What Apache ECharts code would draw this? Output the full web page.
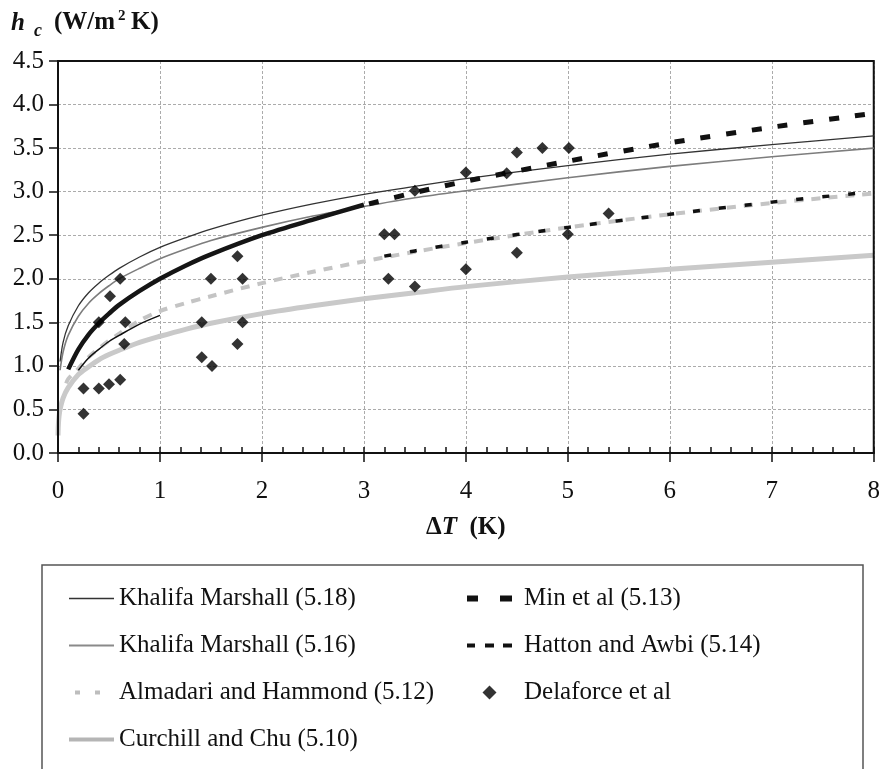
<!DOCTYPE html>
<html>
<head>
<meta charset="utf-8">
<script src="https://cdn.jsdelivr.net/npm/echarts@6/dist/echarts.min.js"></script>
<style>
  html, body { margin: 0; padding: 0; background: #fff; }
  #chart { width: 883px; height: 769px; }
</style>
</head>
<body>
<div id="chart"></div>
<script>
// ---- data ----
const xTickLabels = ['0', '1', '2', '3', '4', '5', '6', '7', '8'];
const yTickLabels = ['0.0', '0.5', '1.0', '1.5', '2.0', '2.5', '3.0', '3.5', '4.0', '4.5'];

const dT_KM = [0.02, 0.05, 0.1, 0.2, 0.3, 0.4, 0.5, 0.6, 0.8, 1, 1.25, 1.5, 2, 2.5, 3, 3.5, 4, 5, 6, 7, 8];
const hc_KM518 = [1.05, 1.27, 1.46, 1.69, 1.84, 1.95, 2.04, 2.12, 2.25, 2.36, 2.47, 2.57, 2.73, 2.86, 2.97, 3.06, 3.15, 3.30, 3.43, 3.54, 3.64];
const hc_KM516 = [0.95, 1.16, 1.35, 1.57, 1.72, 1.83, 1.92, 2.00, 2.12, 2.23, 2.34, 2.44, 2.59, 2.72, 2.83, 2.93, 3.01, 3.16, 3.29, 3.40, 3.50];

const dT_Alm = [0.08, 0.1, 0.2, 0.3, 0.4, 0.5, 0.6, 0.8, 1, 1.25, 1.5, 2, 2.5, 3, 3.5, 4, 5, 6, 7, 8];
const hc_Alm = [0.80, 0.85, 0.97, 1.10, 1.20, 1.29, 1.37, 1.52, 1.63, 1.72, 1.80, 1.95, 2.08, 2.20, 2.31, 2.41, 2.59, 2.74, 2.87, 2.98];

const dT_CC = [0.0005, 0.002, 0.005, 0.01, 0.02, 0.05, 0.1, 0.2, 0.3, 0.4, 0.5, 0.6, 0.8, 1, 1.25, 1.5, 2, 2.5, 3, 3.5, 4, 5, 6, 7, 8];
const hc_CC = [0.20, 0.28, 0.35, 0.42, 0.50, 0.63, 0.75, 0.90, 0.99, 1.07, 1.13, 1.18, 1.27, 1.34, 1.42, 1.49, 1.60, 1.69, 1.77, 1.84, 1.91, 2.02, 2.11, 2.19, 2.27];

const dT_MinLow = [0.1, 0.2, 0.3, 0.4, 0.5, 0.6, 0.8, 1, 1.25, 1.5, 2, 2.5, 3];
const hc_MinLow = [0.96, 1.19, 1.36, 1.49, 1.60, 1.70, 1.86, 2.00, 2.15, 2.28, 2.50, 2.68, 2.85];
const dT_MinHigh = [3.05, 3.5, 4, 5, 6, 7, 8];
const hc_MinHigh = [2.86, 2.99, 3.12, 3.35, 3.56, 3.74, 3.90];

const dT_HatLow = [0.2, 0.3, 0.4, 0.5, 0.6, 0.8, 1];
const hc_HatLow = [0.95, 1.09, 1.19, 1.28, 1.35, 1.48, 1.58];
const dT_HatHigh = [3.2, 3.5, 4, 5, 6, 7, 8];
const hc_HatHigh = [2.26, 2.32, 2.42, 2.59, 2.74, 2.88, 3.00];

const dT_Del = [0.25, 0.40, 0.50, 0.61, 0.25, 0.66, 0.65, 1.41, 1.41, 1.51, 1.81, 1.76, 0.61, 0.51, 0.40, 1.50, 1.81, 1.76,
                3.20, 3.30, 3.24, 3.50, 3.50, 4.00, 4.40, 4.50, 4.75, 5.01, 4.50, 5.00, 5.40, 4.00];
const hc_Del = [0.74, 0.74, 0.79, 0.84, 0.45, 1.50, 1.25, 1.50, 1.10, 1.00, 1.50, 1.25, 2.00, 1.80, 1.50, 2.00, 2.00, 2.26,
                2.51, 2.51, 2.00, 1.91, 3.01, 3.22, 3.21, 3.45, 3.50, 3.50, 2.30, 2.51, 2.75, 2.11];

const names = {
  km518: 'Khalifa Marshall (5.18)',
  km516: 'Khalifa Marshall (5.16)',
  alm: 'Almadari and Hammond (5.12)',
  cc: 'Curchill and Chu (5.10)',
  min: 'Min et al (5.13)',
  hat: 'Hatton and Awbi (5.14)',
  del: 'Delaforce et al'
};

// ---- build ----
const zip = (xs, ys) => xs.map((x, i) => [x, ys[i]]);
const FONT = 'Liberation Serif';
const hideSym = { opacity: 0, color: 'rgba(0,0,0,0)', borderWidth: 0 };

// legend glyphs (45 x 14 boxes)
const ICON_ALM = 'path://M0,0 L0.1,0 L0.1,0.1 Z M45,10 L44.9,10 L44.9,9.9 Z M6,3 H11 V7 H6 Z M26,3 H31 V7 H26 Z';
const ICON_MIN = 'path://M0,4 H11 V10 H0 Z M33,4 H45 V10 H33 Z';
const ICON_HAT = 'path://M0,5 H8 V9 H0 Z M18,5 H27 V9 H18 Z M36,5 H45 V9 H36 Z';
const ICON_DEL = 'path://M5,0 L10,5 L5,10 L0,5 Z';

function lineSeries(name, xs, ys, style, z) {
  return {
    name: name, type: 'line', data: zip(xs, ys), showSymbol: false, symbol: 'none',
    smooth: 0.3, lineStyle: style, itemStyle: { color: style.color },
    z: z, silent: true
  };
}

const chart = echarts.init(document.getElementById('chart'), null, { renderer: 'canvas' });
chart.setOption({
  animation: false,
  backgroundColor: '#fff',
  grid: { left: 58, right: 7, top: 61, bottom: 316, show: true, borderColor: '#111', borderWidth: 2, backgroundColor: 'transparent', z: 3 },
  xAxis: [{
    type: 'value', min: 0, max: 8, interval: 1, position: 'bottom',
    axisLine: { lineStyle: { color: '#111', width: 2 } },
    axisTick: { show: true, inside: false, length: 9, lineStyle: { color: '#111', width: 1.5 } },
    axisLabel: { margin: 26, fontFamily: FONT, fontSize: 25, color: '#111', formatter: v => xTickLabels[Math.round(v)] },
    splitLine: { show: true, lineStyle: { color: '#ababab', width: 1, type: [3, 2] } },
    name: 'Δ{i|T}  (K)', nameLocation: 'middle', nameGap: 62,
    nameTextStyle: { fontFamily: FONT, fontSize: 25, fontWeight: 'bold', color: '#111',
      rich: { i: { fontFamily: FONT, fontSize: 25, fontWeight: 'bold', fontStyle: 'italic', color: '#111' } } }
  }, {
    type: 'value', min: 0, max: 8, interval: 0.2, position: 'bottom', gridIndex: 0,
    axisLine: { show: false },
    axisTick: { show: true, inside: true, length: 6, lineStyle: { color: '#111', width: 1.5 } },
    axisLabel: { show: false }, splitLine: { show: false }
  }],
  yAxis: {
    type: 'value', min: 0, max: 4.5, interval: 0.5,
    axisLine: { show: true, lineStyle: { color: '#111', width: 2 } },
    axisTick: { show: true, inside: false, length: 9, lineStyle: { color: '#111', width: 1.5 } },
    axisLabel: { margin: 14, fontFamily: FONT, fontSize: 25, color: '#111', formatter: v => yTickLabels[Math.round(v * 2)] },
    splitLine: { show: true, lineStyle: { color: '#ababab', width: 1, type: [3, 2] } }
  },
  legend: [{
    orient: 'vertical', left: 62, top: 581, itemWidth: 45, itemHeight: 14, itemGap: 22,
    selectedMode: false, symbolKeepAspect: true, textStyle: { fontFamily: FONT, fontSize: 25, color: '#111' },
    data: [
      { name: names.km518, itemStyle: hideSym, lineStyle: { color: '#333', width: 1.3 } },
      { name: names.km516, itemStyle: hideSym, lineStyle: { color: '#8a8a8a', width: 2 } },
      { name: names.alm, icon: ICON_ALM, itemStyle: { color: '#bdbdbd', borderWidth: 0 } },
      { name: names.cc, itemStyle: hideSym, lineStyle: { color: '#b5b5b5', width: 4 } }
    ]
  }, {
    orient: 'vertical', left: 462, top: 581, itemWidth: 45, itemHeight: 14, itemGap: 22,
    selectedMode: false, symbolKeepAspect: true, textStyle: { fontFamily: FONT, fontSize: 25, color: '#111', padding: [0, 0, 0, 7] },
    data: [
      { name: names.min, icon: ICON_MIN, itemStyle: { color: '#111', borderWidth: 0 } },
      { name: names.hat, icon: ICON_HAT, itemStyle: { color: '#111', borderWidth: 0 } },
      { name: names.del, icon: ICON_DEL, itemStyle: { color: '#000', borderWidth: 0 } }
    ]
  }],
  graphic: [
    { type: 'rect', shape: { x: 42, y: 565, width: 821, height: 215 }, style: { fill: 'none', stroke: '#555', lineWidth: 1.5 }, silent: true },
    { type: 'text', x: 11, y: 24, style: { text: 'h', font: 'italic bold 25px "Liberation Serif"', fill: '#111', textVerticalAlign: 'middle' } },
    { type: 'text', x: 34, y: 31, style: { text: 'c', font: 'italic bold 18px "Liberation Serif"', fill: '#111', textVerticalAlign: 'middle' } },
    { type: 'text', x: 54, y: 23, style: { text: '(W/m', font: 'bold 25px "Liberation Serif"', fill: '#111', textVerticalAlign: 'middle' } },
    { type: 'text', x: 118, y: 16, style: { text: '2', font: 'bold 15px "Liberation Serif"', fill: '#111', textVerticalAlign: 'middle' } },
    { type: 'text', x: 131, y: 23, style: { text: 'K)', font: 'bold 25px "Liberation Serif"', fill: '#111', textVerticalAlign: 'middle' } }
  ],
  series: [
    lineSeries(names.cc, dT_CC, hc_CC, { color: '#c9c9c9', width: 5 }, 2),
    lineSeries(names.alm, dT_Alm, hc_Alm, { color: '#c4c4c4', width: 4, type: [9, 8] }, 3),
    lineSeries(names.km516, dT_KM, hc_KM516, { color: '#7d7d7d', width: 1.6 }, 4),
    lineSeries(names.km518, dT_KM, hc_KM518, { color: '#333', width: 1.3 }, 5),
    lineSeries(names.hat, dT_HatHigh, hc_HatHigh, { color: '#111', width: 3.5, type: [7, 19], cap: 'butt' }, 6),
    lineSeries(names.hat, dT_HatLow, hc_HatLow, { color: '#111', width: 1.5 }, 6),
    lineSeries(names.min, dT_MinHigh, hc_MinHigh, { color: '#111', width: 5, type: [10, 16], cap: 'butt' }, 7),
    lineSeries(names.min, dT_MinLow, hc_MinLow, { color: '#151515', width: 4.5 }, 7),
    {
      name: names.del, type: 'scatter', data: zip(dT_Del, hc_Del), symbol: 'diamond', symbolSize: 12,
      itemStyle: { color: '#000' }, z: 8, silent: true
    }
  ]
});
</script>
</body>
</html>
